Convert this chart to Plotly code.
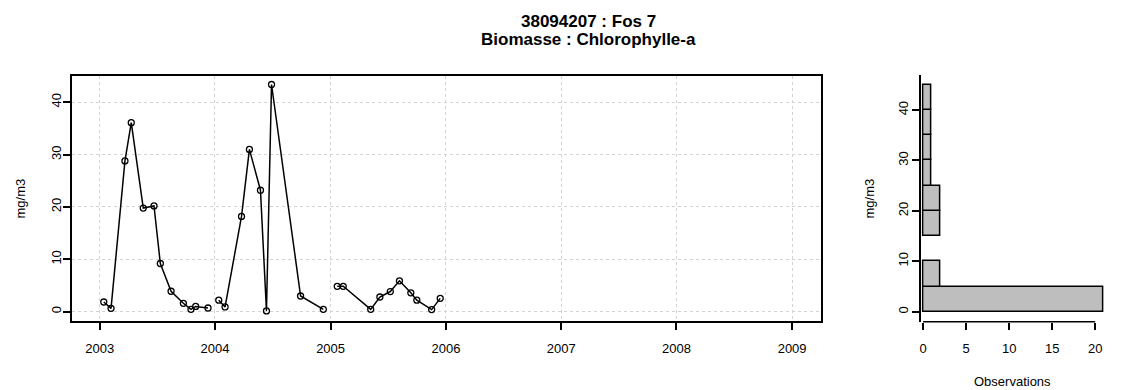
import plotly.graph_objects as go

# ---- data ----
dates_2003 = ["2003-01-14", "2003-02-06", "2003-03-22", "2003-04-11", "2003-05-19", "2003-06-22",
              "2003-07-12", "2003-08-15", "2003-09-23", "2003-10-17", "2003-11-01", "2003-12-10"]
chl_2003 = [1.85, 0.64, 28.8, 36.1, 19.8, 20.2, 9.2, 3.9, 1.6, 0.45, 1.0, 0.7]

dates_2004 = ["2004-01-13", "2004-02-02", "2004-03-25", "2004-04-19", "2004-05-24", "2004-06-12",
              "2004-06-28", "2004-09-28", "2004-12-09"]
chl_2004 = [2.2, 0.9, 18.2, 31.0, 23.2, 0.15, 43.4, 3.0, 0.45]

dates_2005 = ["2005-01-22", "2005-02-10", "2005-05-08", "2005-06-06", "2005-07-09", "2005-08-07",
              "2005-09-12", "2005-10-01", "2005-11-17", "2005-12-14"]
chl_2005 = [4.85, 4.85, 0.45, 2.8, 3.85, 5.9, 3.6, 2.2, 0.4, 2.55]

years = ["2003", "2004", "2005", "2006", "2007", "2008", "2009"]
y_ticks = [0, 10, 20, 30, 40]
hist_x_ticks = [0, 5, 10, 15, 20]

title_line1 = "38094207 : Fos 7"
title_line2 = "Biomasse : Chlorophylle-a"
unit = "mg/m3"
hist_xlabel = "Observations"

# ---- helpers for pixel placement ----
W, H = 1129, 390
def px(x):
    return x / W
def py(y):
    return 1 - y / H

FONT = "Liberation Sans, Arial, sans-serif"

fig = go.Figure()

series = [(dates_2003, chl_2003), (dates_2004, chl_2004), (dates_2005, chl_2005)]
for d, v in series:
    fig.add_trace(go.Scatter(
        x=d, y=v, mode="lines+markers",
        line=dict(color="black", width=1.5),
        marker=dict(symbol="circle-open", size=6, color="black", line=dict(width=1.3, color="black")),
        xaxis="x", yaxis="y", showlegend=False, hoverinfo="x+y",
    ))

all_values = chl_2003 + chl_2004 + chl_2005
fig.add_trace(go.Histogram(
    y=all_values, orientation="h",
    ybins=dict(start=0, end=45, size=5),
    marker=dict(color="#BEBEBE", line=dict(color="black", width=1.5)),
    xaxis="x2", yaxis="y2", showlegend=False,
))

tick_font = dict(family=FONT, size=13, color="black")

fig.update_layout(
    width=W, height=H,
    margin=dict(l=0, r=0, t=0, b=0),
    paper_bgcolor="white", plot_bgcolor="white",
    bargap=0,
    xaxis=dict(
        domain=[px(70), px(820)], anchor="y", type="date",
        range=["2002-10-05", "2009-04-01"],
        tickvals=[y + "-01-01" for y in years], ticktext=years,
        ticks="outside", ticklen=7, tickwidth=1.5, tickcolor="black",
        showline=True, linecolor="black", linewidth=1.6, mirror=True,
        showgrid=True, gridcolor="#D3D3D3", griddash="dot", gridwidth=1,
        zeroline=False, tickfont=tick_font, ticklabelstandoff=8,
    ),
    yaxis=dict(
        domain=[py(321), py(75.7)], anchor="x",
        range=[-1.78, 45.08], tickvals=y_ticks,
        ticks="outside", ticklen=7, tickwidth=1.5, tickcolor="black",
        showline=True, linecolor="black", linewidth=1.6, mirror=True,
        showgrid=True, gridcolor="#D3D3D3", griddash="dot", gridwidth=1,
        zeroline=False, tickfont=tick_font, tickangle=-90, ticklabelstandoff=-3,
    ),
    xaxis2=dict(
        domain=[px(921), px(1104.6)], anchor="y2",
        range=[-0.2, 21.1], tickvals=hist_x_ticks,
        ticks="outside", ticklen=7, tickwidth=1.5, tickcolor="black",
        showline=False, showgrid=False, zeroline=False,
        tickfont=tick_font, ticklabelstandoff=8,
    ),
    yaxis2=dict(
        domain=[py(321.7), py(75)], anchor="x2",
        range=[-1.98, 46.96], tickvals=y_ticks,
        ticks="outside", ticklen=8, tickwidth=1.5, tickcolor="black",
        showline=True, linecolor="black", linewidth=1.6,
        showgrid=False, zeroline=False,
        tickfont=tick_font, tickangle=-90, ticklabelstandoff=-2,
    ),
    shapes=[
        dict(type="line", xref="x2", yref="y2 domain", x0=hist_x_ticks[0], x1=hist_x_ticks[-1],
             y0=0, y1=0, line=dict(color="black", width=1.6)),
    ],
    annotations=[
        dict(text=f"<b>{title_line1}</b>", x=px(588), y=py(21), xref="paper", yref="paper",
             xanchor="center", yanchor="middle", showarrow=False,
             font=dict(family=FONT, size=17, color="black")),
        dict(text=f"<b>{title_line2}</b>", x=px(588), y=py(40), xref="paper", yref="paper",
             xanchor="center", yanchor="middle", showarrow=False,
             font=dict(family=FONT, size=17, color="black")),
        dict(text=unit, x=px(18.5), y=py(198), xref="paper", yref="paper",
             xanchor="center", yanchor="middle", showarrow=False, textangle=-90,
             font=dict(family=FONT, size=13, color="black")),
        dict(text=unit, x=px(869), y=py(198), xref="paper", yref="paper",
             xanchor="center", yanchor="middle", showarrow=False, textangle=-90,
             font=dict(family=FONT, size=13, color="black")),
        dict(text=hist_xlabel, x=px(1012), y=py(381), xref="paper", yref="paper",
             xanchor="center", yanchor="middle", showarrow=False,
             font=dict(family=FONT, size=13, color="black")),
    ],
)

fig.write_html("out.html", config={"displayModeBar": False},
               post_script="document.body.style.margin='0';document.body.style.overflow='hidden';")
